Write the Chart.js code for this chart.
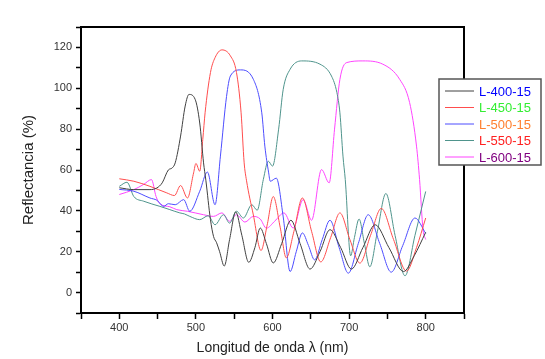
<!DOCTYPE html>
<html>
<head>
<meta charset="utf-8">
<script src="https://cdn.jsdelivr.net/npm/chart.js@4/dist/chart.umd.min.js"></script>
<style>
  body { margin: 0; background: #fff; }
</style>
</head>
<body>
<canvas id="myChart" width="545" height="359"></canvas>
<script>
'use strict';

// Series names and legend text colours
const seriesNames = ['L-400-15', 'L-450-15', 'L-500-15', 'L-550-15', 'L-600-15'];
const lineColors = ['#404040', '#ff4d4d', '#4d4dff', '#4f948c', '#ff44ff'];
const legendTextColors = ['#0000ff', '#33ee33', '#ff8030', '#ff2020', '#800080'];

// Wavelengths (nm) and reflectance (%)
const wl400 = [400, 419, 440, 449, 456, 464, 469, 473, 480, 486, 491, 499, 505, 510, 513, 519, 523, 527, 531, 537, 544, 552, 560, 569, 577, 584, 592, 601, 612, 624, 636, 649, 662, 675, 689, 703, 718, 734, 752, 771, 785, 800];
const refl400 = [51.3, 50.4, 50.4, 51.2, 53.7, 60, 61, 63.5, 76.6, 91.3, 97, 94.6, 83, 63.5, 55, 35.7, 27.5, 24.4, 20, 13, 26, 39.5, 28, 14.8, 22, 31.6, 24, 14.5, 24, 35.4, 24, 11.5, 20, 30.8, 22, 11.5, 22, 33.2, 22, 10.3, 18, 29.5];

const wl450 = [400, 419, 440, 462, 472, 480, 489, 497, 500, 505, 509, 512, 519, 525, 534, 545, 553, 559, 563, 566, 575, 585, 593, 601, 610, 618, 628, 639, 651, 663, 676, 688, 701, 714, 728, 742, 758, 775, 788, 800];
const refl450 = [55.7, 54.5, 52, 48.8, 47.5, 52.4, 46.3, 58.6, 63.2, 59.4, 75, 88, 107.7, 115, 118.8, 115.9, 107.7, 88, 63.5, 55, 38, 20.6, 33, 47, 32, 17, 30, 46.3, 30, 15, 27, 39, 26, 14.4, 28, 41.2, 26, 10.5, 22, 36.5];

const wl500 = [400, 419, 440, 449, 458, 464, 473, 484, 492, 505, 515, 525, 532, 540, 545, 558, 575, 586, 590, 595, 597, 605, 614, 623, 631, 639, 647, 655, 665, 675, 687, 699, 712, 725, 740, 755, 770, 786, 800];
const refl500 = [50.5, 49.6, 46.3, 45.2, 42.2, 43.5, 43, 45.5, 39.8, 49.6, 59, 43, 66.8, 96, 106, 109, 104.4, 88, 71.7, 58.6, 54.5, 56, 37, 10.3, 20, 29.2, 23, 16, 26, 35.4, 22, 9.5, 24, 38.1, 24, 10, 23, 36.5, 29];

const wl550 = [400, 410, 419, 432, 453, 466, 479, 485, 492, 505, 516, 525, 536, 544, 553, 562, 573, 580, 588, 594.5, 600, 608, 614, 623, 638, 662, 677, 684, 688, 692, 695, 702, 707, 713, 720, 727, 737, 748, 760, 773, 786, 800];
const refl550 = [52, 54, 47, 44.7, 42.2, 40.6, 39, 38.5, 37.3, 35.7, 37.6, 33.2, 38.1, 34, 39.8, 36.5, 43, 40.3, 55.3, 64.3, 61.9, 80, 99.5, 109.3, 113.4, 111.8, 106, 98, 88, 66.8, 55.3, 18, 27, 36, 24, 12.6, 30, 48.5, 28, 8.2, 28, 49.5];

const wl600 = [400, 419, 432, 442, 448, 453, 466, 475, 489, 499, 510, 523, 534, 544, 553, 564, 575, 584, 592, 603, 615, 627, 640, 651, 664, 674, 681, 688, 697, 718, 744, 766, 779, 788, 792, 796.5, 800];
const refl600 = [48, 50.4, 53, 55.3, 47, 43.5, 42, 40.6, 39.8, 39, 38.1, 37.3, 39, 34.9, 38.1, 34.5, 37.3, 36, 31.5, 35, 39, 31.6, 45.5, 35.4, 60.2, 53.7, 80, 104.4, 112.6, 113.4, 111.8, 104.4, 93, 71.7, 55.3, 30.8, 26];

// Axis ranges and ticks
const xMin = 350, xMax = 850, xStep = 50;
const yMin = -10, yMax = 130, yStep = 10;
const xLabelEvery = 100;
const yLabelEvery = 20;

const wavelengths = [wl400, wl450, wl500, wl550, wl600];
const reflectances = [refl400, refl450, refl500, refl550, refl600];

function toPoints(xs, ys){
  let pts = [];
  for(let i = 0; i < xs.length; i++){
    pts.push({x: xs[i], y: ys[i]});
  }
  return pts;
}

let datasets = [];
for(let i = 0; i < seriesNames.length; i++){
  datasets.push({
    label: seriesNames[i],
    data: toPoints(wavelengths[i], reflectances[i]),
    borderColor: lineColors[i],
    borderWidth: 1,
    pointRadius: 0,
    fill: false,
    cubicInterpolationMode: 'monotone'
  });
}

// top and right frame lines
const framePlugin = {
  id: 'frame',
  afterDatasetsDraw(chart){
    const a = chart.chartArea;
    const c = chart.ctx;
    c.save();
    c.strokeStyle = '#000';
    c.lineWidth = 2;
    c.beginPath();
    c.moveTo(a.left, a.top);
    c.lineTo(a.right, a.top);
    c.lineTo(a.right, a.bottom);
    c.stroke();
    c.restore();
  }
};

// boxed legend drawn over the right frame
const boxLegend = {
  id: 'boxLegend',
  afterDraw(chart){
    const c = chart.ctx;
    const left = 439, top = 79, w = 102, h = 86;
    c.save();
    c.fillStyle = '#fff';
    c.fillRect(left, top, w, h);
    c.strokeStyle = '#555';
    c.lineWidth = 1.5;
    c.strokeRect(left, top, w, h);
    c.font = '13px "Liberation Sans", Arial, sans-serif';
    c.textBaseline = 'middle';
    for(let i = 0; i < seriesNames.length; i++){
      const y = top + 12 + i * 16.5;
      c.strokeStyle = lineColors[i];
      c.lineWidth = 1;
      c.beginPath();
      c.moveTo(left + 6, y);
      c.lineTo(left + 35, y);
      c.stroke();
      c.fillStyle = legendTextColors[i];
      c.fillText(seriesNames[i], left + 40, y + 1);
    }
    c.restore();
  }
};

const tickFont = {family: '"Liberation Sans", Arial, sans-serif', size: 11};

new Chart(document.getElementById('myChart'), {
  type: 'line',
  data: {datasets: datasets},
  options: {
    responsive: false,
    animation: false,
    layout: {padding: {top: 27, right: 81, left: 0, bottom: 0}},
    plugins: {
      legend: {display: false},
      tooltip: {enabled: false}
    },
    scales: {
      x: {
        type: 'linear',
        min: xMin,
        max: xMax,
        afterFit(scale){ scale.height = 46; },
        ticks: {
          stepSize: xStep,
          autoSkip: false,
          maxRotation: 0,
          padding: 2,
          color: '#333',
          font: tickFont,
          callback: function(v){ return v % xLabelEvery === 0 && v > xMin && v < xMax ? String(v) : ''; }
        },
        grid: {drawOnChartArea: false, tickLength: 6, tickColor: '#000', tickWidth: 1.5},
        border: {color: '#000', width: 2},
        title: {
          display: true,
          text: 'Longitud de onda λ (nm)',
          color: '#222',
          font: {family: '"Liberation Sans", Arial, sans-serif', size: 14},
          padding: {top: 0, bottom: 2}
        }
      },
      y: {
        min: yMin,
        max: yMax,
        afterFit(scale){ scale.width = 81; },
        ticks: {
          stepSize: yStep,
          autoSkip: false,
          padding: 4,
          color: '#333',
          font: tickFont,
          callback: function(v){ return v % yLabelEvery === 0 && v >= 0 && v < yMax ? String(v) : ''; }
        },
        grid: {drawOnChartArea: false, tickLength: 5, tickColor: '#000', tickWidth: 1.5},
        border: {color: '#000', width: 2},
        title: {
          display: true,
          text: 'Reflectancia (%)',
          color: '#222',
          font: {family: '"Liberation Sans", Arial, sans-serif', size: 15},
          padding: {top: 20, bottom: 0}
        }
      }
    }
  },
  plugins: [framePlugin, boxLegend]
});
</script>
</body>
</html>
